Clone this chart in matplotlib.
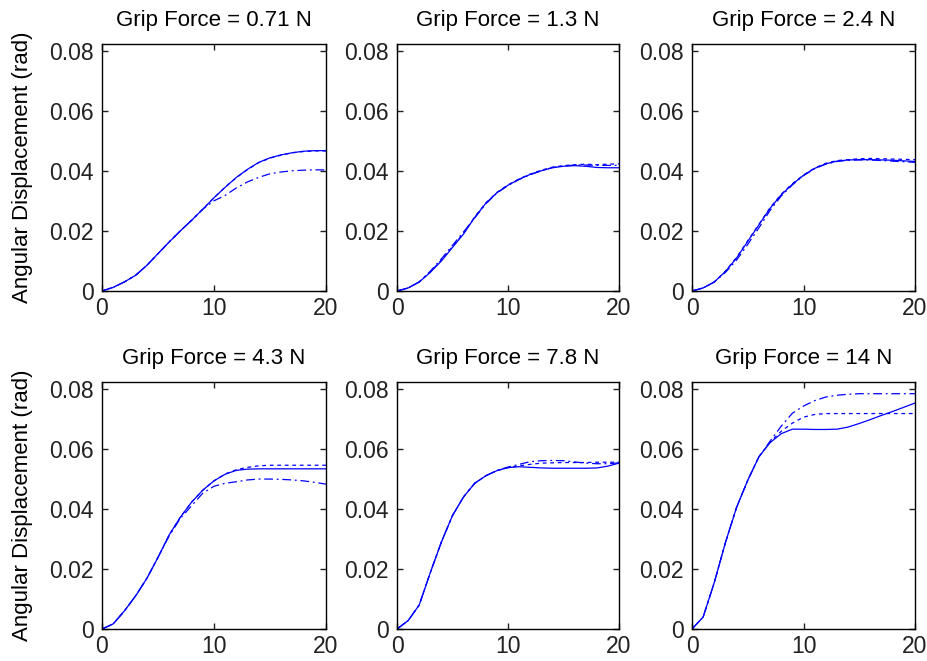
import numpy as np
import matplotlib
matplotlib.use("Agg")
import matplotlib.pyplot as plt

plt.rcParams["font.family"] = ["Liberation Sans", "DejaVu Sans"]

time = np.arange(0, 21)
forces = ["0.71", "1.3", "2.4", "4.3", "7.8", "14"]

# angular displacement (rad), three traces per grip force: solid, dashed, dash-dot
solid_071 = [0, 0.0012, 0.003, 0.0052, 0.0085, 0.0124, 0.0163, 0.020, 0.0235, 0.0272, 0.031,
             0.0345, 0.0378, 0.0405, 0.0428, 0.0443, 0.0453, 0.046, 0.0465, 0.0467, 0.0467]
dash_071 = [0, 0.0012, 0.003, 0.0052, 0.0085, 0.0124, 0.0163, 0.020, 0.0235, 0.0272, 0.031,
            0.0346, 0.0377, 0.0404, 0.0427, 0.0442, 0.0452, 0.046, 0.0464, 0.0466, 0.0466]
dashdot_071 = [0, 0.0012, 0.003, 0.0052, 0.0085, 0.0124, 0.0163, 0.020, 0.0235, 0.0272, 0.0300,
               0.0318, 0.0343, 0.0363, 0.0378, 0.0390, 0.0396, 0.0400, 0.0402, 0.0403, 0.0403]

solid_13 = [0, 0.001, 0.003, 0.0062, 0.010, 0.0145, 0.019, 0.0245, 0.0292, 0.0327, 0.0352,
            0.0372, 0.0388, 0.0400, 0.0410, 0.0415, 0.0417, 0.0415, 0.0411, 0.0410, 0.0410]
dash_13 = [0, 0.001, 0.003, 0.0064, 0.0103, 0.0148, 0.0193, 0.0247, 0.0293, 0.0328, 0.0353,
           0.0373, 0.0389, 0.0402, 0.0412, 0.0417, 0.0420, 0.0422, 0.0420, 0.0422, 0.0423]
dashdot_13 = [0, 0.001, 0.003, 0.0066, 0.0107, 0.0152, 0.0197, 0.0243, 0.0290, 0.0326, 0.0351,
              0.0371, 0.0387, 0.0400, 0.0411, 0.0416, 0.0419, 0.0419, 0.0418, 0.0418, 0.0418]

solid_24 = [0, 0.001, 0.003, 0.0065, 0.011, 0.0165, 0.022, 0.0275, 0.032, 0.0355, 0.0385,
            0.0408, 0.0423, 0.0432, 0.0436, 0.0437, 0.0437, 0.0436, 0.0435, 0.0433, 0.0431]
dash_24 = [0, 0.001, 0.003, 0.0066, 0.0112, 0.0167, 0.0222, 0.0277, 0.0322, 0.0357, 0.0386,
           0.0409, 0.0425, 0.0434, 0.0437, 0.0440, 0.0441, 0.0440, 0.0439, 0.0438, 0.0437]
dashdot_24 = [0, 0.001, 0.003, 0.0062, 0.0103, 0.0155, 0.0210, 0.0268, 0.0316, 0.0353, 0.0384,
              0.0407, 0.0422, 0.0431, 0.0435, 0.0436, 0.0436, 0.0434, 0.0432, 0.0430, 0.0428]

solid_43 = [0, 0.0017, 0.006, 0.011, 0.0168, 0.0238, 0.0313, 0.0372, 0.0422, 0.0462, 0.0493,
            0.0515, 0.0528, 0.0532, 0.0533, 0.0533, 0.0533, 0.0533, 0.0533, 0.0533, 0.0533]
dash_43 = [0, 0.0017, 0.006, 0.011, 0.0168, 0.0238, 0.0313, 0.0372, 0.0422, 0.0462, 0.0493,
           0.0516, 0.0530, 0.0538, 0.0543, 0.0545, 0.0545, 0.0545, 0.0545, 0.0545, 0.0545]
dashdot_43 = [0, 0.0017, 0.006, 0.011, 0.0168, 0.0238, 0.0310, 0.0368, 0.0410, 0.0452, 0.0475,
              0.0485, 0.0490, 0.0496, 0.0499, 0.0499, 0.0498, 0.0496, 0.0493, 0.0488, 0.0482]

solid_78 = [0, 0.0028, 0.008, 0.0188, 0.029, 0.0378, 0.0440, 0.0485, 0.0510, 0.0527, 0.0537,
            0.0540, 0.0538, 0.0536, 0.0535, 0.0535, 0.0535, 0.0535, 0.0536, 0.0542, 0.0552]
dash_78 = [0, 0.0028, 0.008, 0.0188, 0.029, 0.0378, 0.0440, 0.0485, 0.0510, 0.0527, 0.0537,
           0.0543, 0.0548, 0.0552, 0.0553, 0.0554, 0.0554, 0.0554, 0.0555, 0.0555, 0.0555]
dashdot_78 = [0, 0.0028, 0.008, 0.0188, 0.029, 0.0378, 0.0440, 0.0485, 0.0510, 0.0528, 0.0539,
              0.0548, 0.0557, 0.0560, 0.0561, 0.0560, 0.0556, 0.0552, 0.0550, 0.0550, 0.0553]

solid_14 = [0, 0.004, 0.0155, 0.0288, 0.0405, 0.0495, 0.0573, 0.0620, 0.0650, 0.0665, 0.0665,
            0.0664, 0.0664, 0.0665, 0.0672, 0.0684, 0.0697, 0.0711, 0.0724, 0.0738, 0.0752]
dash_14 = [0, 0.004, 0.0155, 0.0288, 0.0405, 0.0495, 0.0573, 0.0622, 0.0658, 0.0685, 0.0705,
           0.0714, 0.0717, 0.0717, 0.0717, 0.0717, 0.0717, 0.0717, 0.0717, 0.0717, 0.0717]
dashdot_14 = [0, 0.004, 0.0155, 0.0288, 0.0405, 0.0495, 0.0573, 0.0625, 0.0675, 0.0718, 0.0742,
              0.0760, 0.0772, 0.0778, 0.0781, 0.0783, 0.0783, 0.0783, 0.0783, 0.0783, 0.0783]

traces = [
    (solid_071, dash_071, dashdot_071),
    (solid_13, dash_13, dashdot_13),
    (solid_24, dash_24, dashdot_24),
    (solid_43, dash_43, dashdot_43),
    (solid_78, dash_78, dashdot_78),
    (solid_14, dash_14, dashdot_14),
]

fig = plt.figure(figsize=(9.27, 6.61), dpi=100)
lefts = [0.110, 0.4283, 0.7465]
widths = [0.2416, 0.2395, 0.2406]
bottoms = [0.5598, 0.0484]
height = 0.3737

for i, (force, (s, d, dd)) in enumerate(zip(forces, traces)):
    row, col = divmod(i, 3)
    ax = fig.add_axes([lefts[col], bottoms[row], widths[col], height])
    ax.plot(time, s, color="#0000ff", lw=0.9, ls="-")
    ax.plot(time, d, color="#0000ff", lw=0.9, ls=(0, (3, 3)))
    ax.plot(time, dd, color="#0000ff", lw=0.9, ls=(0, (7, 3, 1.5, 3)))
    ax.set_xlim(0, 20)
    ax.set_ylim(0, 0.0822)
    ax.set_xticks([0, 10, 20])
    ax.set_yticks([0, 0.02, 0.04, 0.06, 0.08])
    ax.set_yticklabels(["0", "0.02", "0.04", "0.06", "0.08"])
    ax.tick_params(direction="in", top=True, right=True, length=4, width=1,
                   labelsize=16.5, colors="#222222")
    ax.tick_params(axis="x", pad=4)
    ax.tick_params(axis="y", pad=6)
    for sp in ax.spines.values():
        sp.set_linewidth(1)
    ax.set_title("Grip Force = %s N" % force, fontsize=16, pad=13)
    if col == 0:
        ax.set_ylabel("Angular Displacement (rad)", fontsize=16)
        ax.yaxis.set_label_coords(-0.31, 0.5)

fig.savefig("out.png", dpi=100)
